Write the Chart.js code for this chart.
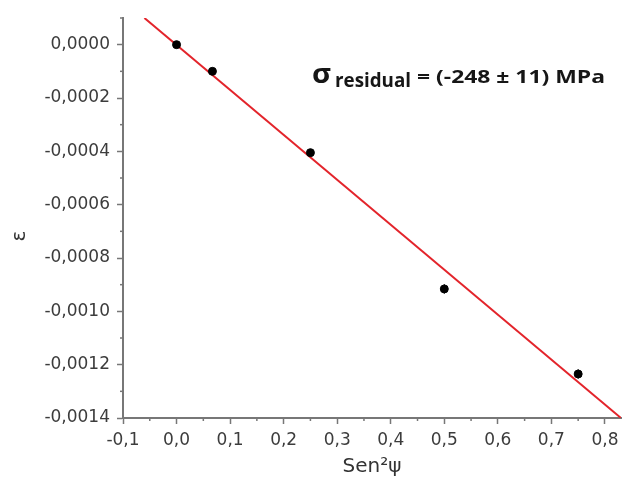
<!DOCTYPE html>
<html>
<head>
<meta charset="utf-8">
<script src="https://cdn.jsdelivr.net/npm/chart.js@4/dist/chart.umd.min.js"></script>
<style>
  html, body { margin: 0; padding: 0; background: #fff; }
  #wrap { width: 626px; height: 484px; position: relative; }
</style>
</head>
<body>
<div id="wrap"><canvas id="myChart" width="626" height="484"></canvas></div>
<script>
// measured points (sen²psi, strain)
var sen2psi = [0.0, 0.067, 0.25, 0.5, 0.75];
var strain = [0.0, -0.0001, -0.000405, -0.000916, -0.001235];
var strainErr = [0.000008, 0.00001, 0.00001, 0.000018, 0.000018];
// linear fit, ends
var fitX = [-0.06, 0.83];
var fitY = [0.0001, -0.0014];
var yTicks = [0.0, -0.0002, -0.0004, -0.0006, -0.0008, -0.0010, -0.0012, -0.0014];
var xTicks = [-0.1, 0.0, 0.1, 0.2, 0.3, 0.4, 0.5, 0.6, 0.7, 0.8];

function comma(v, d) {
  return v.toFixed(d).replace('.', ',').replace(/^-0,0+$/, '0,' + '0'.repeat(d));
}

var extras = {
  id: 'extras',
  afterDatasetsDraw: function(chart) {
    var c = chart.ctx, xs = chart.scales.x, ys = chart.scales.y;
    var area = chart.chartArea;
    c.save();
    // error bars
    c.strokeStyle = '#000';
    c.lineWidth = 1;
    for (var i = 0; i < sen2psi.length; i++) {
      var px = xs.getPixelForValue(sen2psi[i]);
      c.beginPath();
      c.moveTo(px, ys.getPixelForValue(strain[i] + strainErr[i]));
      c.lineTo(px, ys.getPixelForValue(strain[i] - strainErr[i]));
      c.stroke();
    }
    // minor ticks
    c.strokeStyle = '#777';
    c.lineWidth = 1.5;
    for (var k = 0; k < xTicks.length; k++) {
      var mx = xs.getPixelForValue(xTicks[k] + 0.05);
      if (mx > area.right) continue;
      c.beginPath();
      c.moveTo(mx, area.bottom);
      c.lineTo(mx, area.bottom + 3);
      c.stroke();
    }
    for (var j = 0; j < yTicks.length; j++) {
      var my = ys.getPixelForValue(yTicks[j] + 0.0001);
      c.beginPath();
      c.moveTo(area.left, my);
      c.lineTo(area.left - 3, my);
      c.stroke();
    }
    // y title (sits a bit below the middle in the original)
    c.save();
    c.translate(20, 236);
    c.rotate(-Math.PI / 2);
    c.fillStyle = '#333';
    c.font = '20px "DejaVu Sans", sans-serif';
    c.textAlign = 'center';
    c.textBaseline = 'middle';
    c.fillText('ε', 0, 0);
    c.restore();
    // annotation: each piece squeezed into the span it takes in the original
    var parts = [
      { t: 'σ', f: 'bold 26px "Open Sans", sans-serif', x0: 312, x1: 331, y: 83 },
      { t: 'residual', f: 'bold 20px "Open Sans", sans-serif', x0: 335, x1: 411, y: 87 },
      { t: '= (-248 ± 11) MPa', f: 'bold 18px "Open Sans", sans-serif', x0: 417, x1: 605, y: 83 }
    ];
    c.fillStyle = '#161616';
    c.textBaseline = 'alphabetic';
    parts.forEach(function(p) {
      c.font = p.f;
      var w = c.measureText(p.t).width;
      c.save();
      c.translate(p.x0, p.y);
      c.scale((p.x1 - p.x0) / w, 1);
      c.fillText(p.t, 0, 0);
      c.restore();
    });
    c.restore();
  }
};

new Chart(document.getElementById('myChart'), {
  type: 'scatter',
  data: {
    datasets: [
      {
        label: 'fit',
        type: 'line',
        data: fitX.map(function(x, i) { return { x: x, y: fitY[i] }; }),
        borderColor: '#e3242b',
        borderWidth: 2,
        pointRadius: 0,
        fill: false,
        order: 2
      },
      {
        label: 'dados',
        data: sen2psi.map(function(x, i) { return { x: x, y: strain[i] }; }),
        backgroundColor: '#000',
        borderColor: '#000',
        pointRadius: 4,
        order: 1
      }
    ]
  },
  options: {
    responsive: false,
    animation: false,
    layout: { padding: { top: 18, right: 0, left: 0, bottom: 0 } },
    plugins: { legend: { display: false }, tooltip: { enabled: false } },
    scales: {
      x: {
        type: 'linear',
        min: -0.1,
        max: 0.83,
        afterBuildTicks: function(s) { s.ticks = xTicks.map(function(v) { return { value: v }; }); },
        afterFit: function(s) { s.height = 66; s.paddingLeft = 0; s.paddingRight = 0; },
        border: { display: true, color: '#777', width: 2 },
        grid: { drawOnChartArea: false, drawTicks: true, tickLength: 6, tickColor: '#777', tickWidth: 1.5 },
        ticks: {
          color: '#3c3c3c',
          font: { family: 'DejaVu Sans', size: 17 },
          padding: 6,
          maxRotation: 0,
          callback: function(v) { return comma(v, 1); }
        },
        title: {
          display: true,
          text: 'Sen²ψ',
          color: '#333',
          font: { family: 'DejaVu Sans', size: 20 },
          padding: { top: 0, bottom: 5 }
        }
      },
      y: {
        type: 'linear',
        min: -0.0014,
        max: 0.0001,
        afterBuildTicks: function(s) { s.ticks = yTicks.map(function(v) { return { value: v }; }); },
        afterFit: function(s) { s.width = 123; },
        border: { display: true, color: '#777', width: 2 },
        grid: { drawOnChartArea: false, drawTicks: true, tickLength: 6, tickColor: '#777', tickWidth: 1.5 },
        ticks: {
          color: '#3c3c3c',
          font: { family: 'DejaVu Sans', size: 17 },
          padding: 7,
          callback: function(v) { return comma(v, 4); }
        },
        title: { display: false }
      }
    }
  },
  plugins: [extras]
});
</script>
</body>
</html>
